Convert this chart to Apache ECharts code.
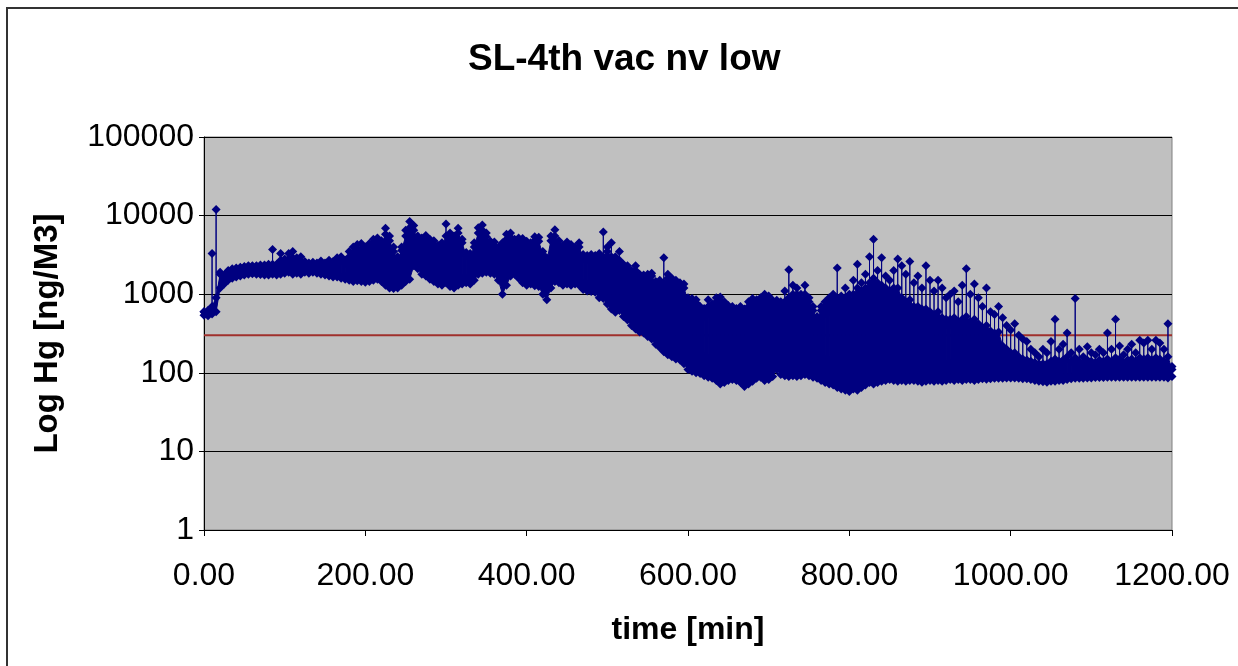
<!DOCTYPE html>
<html>
<head>
<meta charset="utf-8">
<script src="https://cdn.jsdelivr.net/npm/echarts@6/dist/echarts.min.js"></script>
<style>html,body{margin:0;padding:0;background:#fff;}#c{width:1238px;height:666px;}</style>
</head>
<body>
<div id="c"></div>
<script>
// time [min]
const hgTime = [
0,5,10,15,20,25,30,35,40,45,50,55,60,65,70,75,80,85,90,95,
100,105,110,115,120,125,130,135,140,145,150,155,160,165,170,175,180,185,190,195,
200,205,210,215,220,225,230,235,240,245,250,255,260,265,270,275,280,285,290,295,
300,305,310,315,320,325,330,335,340,345,350,355,360,365,370,375,380,385,390,395,
400,405,410,415,420,425,430,435,440,445,450,455,460,465,470,475,480,485,490,495,
500,505,510,515,520,525,530,535,540,545,550,555,560,565,570,575,580,585,590,595,
600,605,610,615,620,625,630,635,640,645,650,655,660,665,670,675,680,685,690,695,
700,705,710,715,720,725,730,735,740,745,750,755,760,765,770,775,780,785,790,795,
800,805,810,815,820,825,830,835,840,845,850,855,860,865,870,875,880,885,890,895,
900,905,910,915,920,925,930,935,940,945,950,955,960,965,970,975,980,985,990,995,
1000,1005,1010,1015,1020,1025,1030,1035,1040,1045,1050,1055,1060,1065,1070,1075,1080,1085,1090,1095,
1100,1105,1110,1115,1120,1125,1130,1135,1140,1145,1150,1155,1160,1165,1170,1175,1180,1185,1190,1195,
1200];
// highest reading in each slot (spikes)
const hgPeak = [
600,620,3300,12000,1900,1750,2000,2100,2150,2200,2250,2300,2300,2300,2350,2350,2400,3700,2400,3300,
2800,3300,3500,2900,3000,2600,2500,2550,2500,2650,2500,2700,2600,2900,3000,2700,3500,4000,4300,4400,
4000,4400,5000,5200,4800,6900,5500,4000,3000,4000,6500,8400,7500,5500,5200,5600,5000,4800,4200,4500,
7800,6000,5500,6900,5000,3400,3300,4500,7000,7600,6000,4700,4600,4000,4500,5800,6000,5000,5200,5100,
4700,4500,5400,5300,3500,2900,5500,6600,4800,4200,4600,4300,4000,4500,3200,3100,3200,3100,3300,6200,
4000,4500,3000,3500,2400,2300,2000,2300,1800,1750,1800,1850,1450,1500,2900,1800,1600,1500,1400,1350,
900,880,850,700,660,850,750,900,920,800,720,700,660,700,650,800,880,850,900,1000,
950,840,840,800,1100,2050,1300,1200,1000,1300,900,700,520,700,800,900,1000,2150,950,1200,
1000,1500,2400,1400,1800,3000,5000,2000,2900,1700,1500,2000,2800,2300,1800,2600,1400,1700,1200,2300,
1500,1100,1500,1200,900,1000,1100,800,1300,2100,1000,1350,900,700,1200,600,550,700,500,400,
350,420,300,270,250,200,180,160,200,180,250,480,200,230,320,180,880,200,160,215,
180,170,200,180,320,200,480,220,170,200,230,180,260,240,260,200,260,240,200,420,
120];
// top of the dense band in each slot
const hgTop = [
600,620,700,900,1800,1700,1950,2050,2100,2150,2200,2250,2250,2250,2300,2300,2350,2400,2350,2700,
2600,2800,2900,2600,2600,2450,2400,2450,2400,2500,2400,2500,2450,2500,2700,2500,3000,3400,3700,3800,
3500,3900,4400,4600,4200,5800,4800,3500,2700,3600,5500,7000,6500,5000,4700,5000,4500,4300,3800,4000,
5500,5300,5000,6000,4500,3100,3000,4000,6000,6500,5400,4300,4100,3600,4000,5000,5300,4500,4700,4600,
4300,4100,4800,4700,3200,2600,4800,5500,4300,3800,4100,3900,3600,4000,2900,2800,2900,2800,3000,3000,
3500,3000,2700,2700,2200,2100,1800,2000,1650,1600,1650,1700,1350,1350,1400,1600,1450,1350,1250,1200,
820,800,780,640,600,700,650,800,820,700,650,640,600,640,600,700,800,780,820,850,
800,760,760,720,800,900,1000,1000,850,1000,800,620,480,620,700,780,850,900,850,900,
850,1000,1200,1100,1200,1400,1600,1400,1300,1200,1100,1200,1200,900,800,850,700,700,650,650,
600,550,600,500,480,480,500,450,480,520,450,480,420,380,400,340,320,330,220,200,
180,180,160,150,145,140,135,130,130,130,140,150,140,145,160,140,155,140,130,145,
140,135,145,140,150,140,155,150,135,145,150,140,155,150,155,145,155,150,140,160,
110];
// lowest reading in each slot
const hgLow = [
540,530,560,600,1200,1350,1500,1600,1650,1700,1750,1800,1820,1800,1780,1750,1760,1800,1750,1800,
1850,1900,1800,1850,1800,1900,1850,1900,1850,1800,1750,1700,1650,1650,1600,1550,1500,1450,1480,1450,
1420,1450,1500,1550,1450,1300,1200,1180,1200,1300,1450,1550,2300,2100,1800,1700,1550,1450,1350,1300,
1400,1250,1200,1300,1350,1400,1350,1500,1800,1850,1900,1850,1800,1500,1000,1300,1700,1800,1600,1400,
1300,1350,1280,1250,1000,850,1200,1450,1400,1300,1350,1300,1350,1300,1150,1100,1080,1060,900,880,
750,650,590,620,520,470,400,360,330,320,290,270,230,210,185,170,160,150,145,130,
110,105,100,98,92,88,85,80,72,75,80,82,80,75,67,72,78,85,88,80,
82,90,110,95,92,90,92,90,92,95,92,88,85,80,75,72,70,65,62,60,
58,62,60,65,70,75,72,75,78,80,82,80,78,80,78,80,80,78,76,78,
80,78,80,78,80,82,80,82,80,82,82,80,82,84,83,84,85,85,85,86,
86,86,85,84,84,82,80,78,77,76,78,78,80,80,82,84,85,85,85,86,
86,87,87,87,88,88,88,88,88,88,88,88,88,88,88,88,88,88,88,86,
90];
// reference limit line
const limitTime = [0, 1200];
const limitValue = [300, 300];
const xTicks = [0, 200, 400, 600, 800, 1000, 1200];
const yTicks = [1, 10, 100, 1000, 10000, 100000];

const NAVY = '#000080';
const FONT = '"Liberation Sans", Arial, sans-serif';

const mainData = [];
hgTime.forEach((t, i) => {
  mainData.push([t, hgTop[i]], [t, hgPeak[i]], [t, hgLow[i]]);
});
// band segments: each joins slot i to slot i+1
const bandData = hgTime.slice(0, -1).map((t, i) =>
  [t, hgLow[i], hgTop[i], hgTime[i + 1], hgLow[i + 1], hgTop[i + 1]]);
const limitData = limitTime.map((t, i) => [t, limitValue[i]]);

function renderBand(params, api) {
  const p1 = api.coord([api.value(0), api.value(1)]);
  const p2 = api.coord([api.value(0), api.value(2)]);
  const p3 = api.coord([api.value(3), api.value(5)]);
  const p4 = api.coord([api.value(3), api.value(4)]);
  return {
    type: 'polygon',
    shape: {points: [p1, p2, p3, p4]},
    style: {fill: NAVY, stroke: NAVY, lineWidth: 1}
  };
}

const chart = echarts.init(document.getElementById('c'), null, {renderer: 'canvas'});
chart.setOption({
  animation: false,
  backgroundColor: '#fff',
  title: {
    text: 'SL-4th vac nv low',
    left: 463, top: 36,
    textStyle: {fontFamily: FONT, fontSize: 37, fontWeight: 'bold', color: '#000'}
  },
  graphic: [{
    type: 'rect', silent: true, z: 100,
    shape: {x: 7, y: 8, width: 1400, height: 900},
    style: {fill: 'none', stroke: '#333', lineWidth: 2}
  }],
  grid: {
    left: 204, top: 137, width: 968, height: 393,
    show: true, backgroundColor: '#C0C0C0', borderColor: '#808080', borderWidth: 1
  },
  xAxis: {
    type: 'value', min: xTicks[0], max: xTicks[xTicks.length - 1], interval: 200,
    name: 'time [min]', nameLocation: 'middle', nameGap: 84,
    nameTextStyle: {fontFamily: FONT, fontSize: 32, fontWeight: 'bold', color: '#000'},
    axisLine: {show: true, onZero: false, lineStyle: {color: '#000', width: 1}},
    axisTick: {show: true, inside: false, length: 6, lineStyle: {color: '#000'}},
    axisLabel: {margin: 30, fontFamily: FONT, fontSize: 32, color: '#000',
      formatter: v => v.toFixed(2)},
    splitLine: {show: false}
  },
  yAxis: {
    type: 'log', logBase: 10, min: yTicks[0], max: yTicks[yTicks.length - 1],
    name: 'Log Hg [ng/M3]', nameLocation: 'middle', nameGap: 140, nameRotate: 90,
    nameTextStyle: {fontFamily: FONT, fontSize: 33, fontWeight: 'bold', color: '#000'},
    axisLine: {show: true, lineStyle: {color: '#000', width: 1}},
    axisTick: {show: true, inside: false, length: 5, lineStyle: {color: '#000'}},
    axisLabel: {margin: 10, fontFamily: FONT, fontSize: 32, color: '#000',
      formatter: v => String(Math.round(v))},
    splitLine: {show: true, lineStyle: {color: '#000', width: 1}},
    minorTick: {show: false}
  },
  series: [
    {
      type: 'line', data: limitData, z: 1, symbol: 'none',
      lineStyle: {color: '#A0302C', width: 2}, silent: true
    },
    {
      type: 'custom', data: bandData, z: 2, silent: true,
      renderItem: renderBand,
      encode: {x: [0, 3], y: [1, 2, 4, 5]}
    },
    {
      type: 'line', data: mainData, z: 3,
      symbol: 'diamond', symbolSize: 9, showSymbol: true, showAllSymbol: true,
      itemStyle: {color: NAVY}, lineStyle: {color: NAVY, width: 1},
      sampling: null, progressive: 0, silent: true
    }
  ]
});
</script>
</body>
</html>
